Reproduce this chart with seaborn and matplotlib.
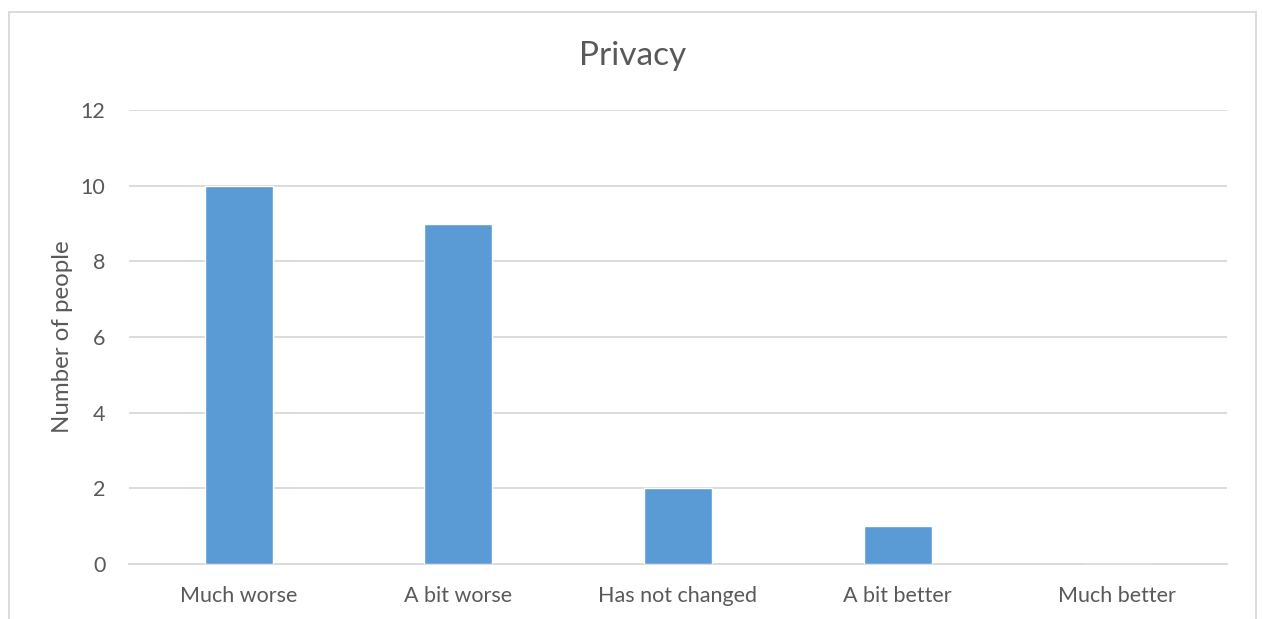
import matplotlib
matplotlib.use("Agg")
import matplotlib.pyplot as plt
from matplotlib.patches import Rectangle
import seaborn as sns
import pandas as pd

categories = ["Much worse", "A bit worse", "Has not changed", "A bit better", "Much better"]
people = [10, 9, 2, 1, 0]
y_ticks = [0, 2, 4, 6, 8, 10, 12]

sns.set_theme(style="white")
plt.rcParams["font.family"] = ["Lato", "DejaVu Sans"]

text_color = "#595959"
grid_color = "#D9D9D9"
bar_color = "#5B9BD5"

W, H = 1262, 619
fig = plt.figure(figsize=(W / 100, H / 100), dpi=100)
ax = fig.add_axes([129 / W, 1 - 564 / H, (1227 - 129) / W, (564 - 110) / H])

df = pd.DataFrame({"category": categories, "people": people})
sns.barplot(data=df, x="category", y="people", color=bar_color, width=0.31,
            saturation=1, ax=ax, zorder=3)

ax.set_ylim(0, 12)
ax.set_yticks(y_ticks)
ax.set_yticklabels([str(t) for t in y_ticks])
ax.yaxis.grid(True, color=grid_color, linewidth=1.3, zorder=0)
ax.xaxis.grid(False)
for side in ["left", "right", "top"]:
    ax.spines[side].set_visible(False)
ax.spines["bottom"].set_color(grid_color)
ax.spines["bottom"].set_linewidth(1.3)
ax.tick_params(axis="both", length=0, labelsize=15.5, colors=text_color)
ax.tick_params(axis="y", pad=17)
ax.tick_params(axis="x", pad=15.5)
ax.set_xlabel("")
ax.set_ylabel("Number of people", fontsize=17.3, color=text_color, labelpad=5.5)
ax.set_xlim(-0.5, len(categories) - 0.5)

fig.text(633 / W, 1 - 56 / H, "Privacy", ha="center", va="center",
         fontsize=24, color=text_color)

# outer chart frame
fig.patches.append(Rectangle((8.5 / W, -0.05), (1255.5 - 8.5) / W, 1.05 - 11.5 / H,
                             transform=fig.transFigure, fill=False,
                             edgecolor=grid_color, linewidth=1.3))

fig.savefig("out.png", dpi=100, facecolor="white")
